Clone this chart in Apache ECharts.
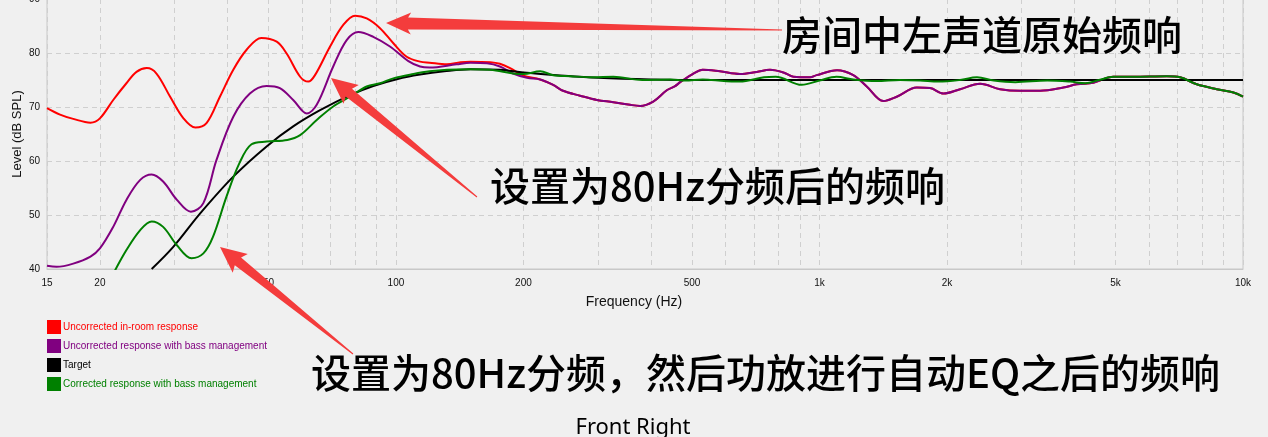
<!DOCTYPE html>
<html>
<head>
<meta charset="utf-8">
<script src="https://cdn.jsdelivr.net/npm/echarts@6/dist/echarts.min.js"></script>
<style>
html,body{margin:0;padding:0;background:#f0f0f0;}
#c{width:1268px;height:437px;}
</style>
</head>
<body>
<div id="c"></div>
<script>
// ---- data ----
const seriesNames = [
  'Uncorrected in-room response',
  'Uncorrected response with bass management',
  'Target',
  'Corrected response with bass management'
];
const xTickLabels = [15, 20, 50, 100, 200, 500, 1000, 2000, 5000, 10000];
const xGridValues = [15, 20, 30, 40, 50, 60, 70, 80, 90, 100, 200, 300, 400, 500, 600, 700, 800, 900,
  1000, 2000, 3000, 4000, 5000, 6000, 7000, 8000, 9000, 10000];

const redFreq = [15, 16.1, 17.3, 19, 20, 21.5, 23.1, 24.4, 25.8, 27.2, 29.3, 31.5, 33.6, 35.7, 38.4, 41.3, 44.4, 48.1,
  52.3, 55.2, 59.4, 62.1, 64.4, 69.9, 75.1, 80.1, 85.3, 91.7, 98.6, 106, 114, 120, 132, 142, 150, 167, 176, 186, 200,
  219, 235, 248, 272, 298, 326, 357, 377, 405, 436, 455, 469, 504, 530, 582, 649, 711, 764, 822, 868, 950, 985, 1100,
  1202, 1293, 1415, 1522, 1697, 1824, 1962, 2148, 2395, 2670, 2976, 3318, 3766, 4052, 4433, 4943, 5510, 6607, 7103,
  7776, 8671, 9494, 10000];
const redDb = [69.8, 68.6, 67.8, 67.1, 67.9, 71.3, 74.4, 76.5, 77.2, 76.2, 71.9, 67.9, 66.2, 67.0, 71.9, 76.9, 80.6, 82.8,
  82.1, 79.9, 75.6, 74.7, 75.9, 81.2, 85.2, 86.9, 86.4, 84.6, 81.8, 79.3, 78.4, 78.2, 77.9, 78.3, 78.4, 78.3, 78.0, 77.2, 75.8,
  75.1, 74.1, 73.0, 72.1, 71.3, 70.9, 70.4, 70.2, 71.0, 73.1, 73.8, 74.6, 76.2, 76.9, 76.6, 76.1, 76.5, 76.9, 76.4, 75.6, 75.5, 75.9, 76.8,
  75.9, 73.8, 71.1, 71.9, 73.6, 73.5, 72.5, 73.3, 74.3, 73.3, 73.0, 73.0, 73.6, 74.2, 74.5, 75.6, 75.6, 75.7, 75.5,
  74.2, 73.3, 72.7, 71.9];

const purpleFreq = [15, 15.8, 17.3, 19, 20, 21.5, 23.1, 24.9, 26.5, 28.2, 30.4, 32.8, 35.1, 37.7, 41.3, 45.2, 49.5, 53.2,
  57.2, 61.6, 65.0, 71.1, 76.5, 81.5, 88.4, 96.8, 107, 114, 120, 139, 150, 164, 176, 189, 204,
  219, 235, 248, 272, 298, 326, 357, 377, 405, 436, 455, 469, 504, 530, 582, 649, 711, 764, 822, 868, 950, 985, 1100,
  1202, 1293, 1415, 1522, 1697, 1824, 1962, 2148, 2395, 2670, 2976, 3318, 3766, 4052, 4433, 4943, 5510, 6607, 7103,
  7776, 8671, 9494, 10000];
const purpleDb = [40.6, 40.4, 41.0, 42.3, 43.8, 47.8, 52.8, 56.5, 57.5, 56.2, 52.8, 50.6, 52.2, 60.2, 68.2, 72.5, 73.9, 73.5,
  71.3, 68.8, 70.4, 77.5, 82.4, 83.9, 83.0, 81.2, 78.5, 77.5, 77.3, 77.9, 78.2, 78.1, 77.5, 76.2, 75.4,
  75.1, 74.1, 73.0, 72.1, 71.3, 70.9, 70.4, 70.2, 71.0, 73.1, 73.8, 74.6, 76.2, 76.9, 76.6, 76.1, 76.5, 76.9, 76.4, 75.6, 75.5, 75.9, 76.8,
  75.9, 73.8, 71.1, 71.9, 73.6, 73.5, 72.5, 73.3, 74.3, 73.3, 73.0, 73.0, 73.6, 74.2, 74.5, 75.6, 75.6, 75.7, 75.5,
  74.2, 73.3, 72.7, 71.9];

const targetFreq = [26.5, 29.8, 34.5, 41.3, 49.5, 57.2, 66.2, 77.9, 88.4, 101, 114, 130, 150, 176, 200, 240, 300, 400, 550, 10000];
const targetDb = [40, 44.1, 50.3, 57.1, 62.7, 66.4, 69.4, 72.2, 73.9, 75.2, 76.0, 76.6, 77.0, 76.9, 76.4, 75.9, 75.4, 75.1, 75.0, 75.0];

const greenFreq = [21.3, 23.1, 24.9, 26.5, 28.2, 30.4, 32.9, 35.1, 37.0, 39.8, 42.7, 45.6, 49.5, 55.4, 59.4, 65.0, 71.1,
  77.9, 85.3, 91.7, 98.6, 110, 120, 132, 150, 167, 189, 200, 219, 235, 258, 292, 326, 382, 444, 482, 530, 556, 648,
  740, 788, 908, 1000, 1097, 1202, 1364, 1550, 1728, 1910, 2148, 2355, 2580, 2900, 3450, 3906, 4250, 4570, 4943,
  5510, 6607, 7103, 7776, 8671, 9494, 10000];
const greenDb = [38.5, 43.5, 47.2, 48.8, 47.8, 44.4, 42.0, 42.9, 46.0, 53.4, 59.6, 63.1, 63.6, 63.9, 64.8, 67.6, 70.1,
  71.9, 73.8, 74.4, 75.3, 76.1, 76.6, 76.9, 77.0, 76.9, 76.2, 76.1, 76.6, 75.9, 75.7, 75.5, 75.6, 75.0, 75.1, 74.9, 75.1, 75.0, 74.7,
  75.5, 75.6, 74.1, 74.9, 75.6, 75.1, 74.8, 75.0, 74.9, 74.7, 75.0, 75.5, 74.9, 74.6, 74.9, 74.7, 74.4, 75.0, 75.6,
  75.6, 75.7, 75.5, 74.2, 73.3, 72.7, 71.9];

const seriesColors = ['#ff0000', '#800080', '#000000', '#008000'];

// ---- chart ----
function pairs(f, d) { return f.map((v, i) => [v, d[i]]); }
const seriesData = [pairs(redFreq, redDb), pairs(purpleFreq, purpleDb), pairs(targetFreq, targetDb), pairs(greenFreq, greenDb)];

function arrow(tail, tip, headLen, headHalf, bodyHalf, tailHalf) {
  const dx = tip[0] - tail[0], dy = tip[1] - tail[1];
  const L = Math.hypot(dx, dy);
  const ux = dx / L, uy = dy / L, px = -uy, py = ux;
  const bx = tip[0] - ux * headLen, by = tip[1] - uy * headLen;
  const pts = [
    [tail[0] + px * tailHalf, tail[1] + py * tailHalf],
    [bx + px * bodyHalf, by + py * bodyHalf],
    [bx + px * headHalf - ux * 3, by + py * headHalf - uy * 3],
    [tip[0], tip[1]],
    [bx - px * headHalf - ux * 3, by - py * headHalf - uy * 3],
    [bx - px * bodyHalf, by - py * bodyHalf],
    [tail[0] - px * tailHalf, tail[1] - py * tailHalf]
  ];
  return { type: 'polygon', z: 100, shape: { points: pts }, style: { fill: '#f43c3c' } };
}

const chart = echarts.init(document.getElementById('c'), null, { renderer: 'canvas' });
const cjk = '"Noto Sans CJK SC", sans-serif';
chart.setOption({
  backgroundColor: '#f0f0f0',
  animation: false,
  grid: { left: 47, right: 25, top: -1, bottom: 168, outerBoundsMode: 'none', containLabel: false,
    show: true, borderColor: '#c8c8c8', borderWidth: 1, backgroundColor: 'transparent' },
  xAxis: {
    type: 'log', logBase: 10, min: 15, max: 10000,
    name: 'Frequency (Hz)', nameLocation: 'middle', nameGap: 26, nameMoveOverlap: false,
    nameTextStyle: { fontSize: 14, color: '#111', fontFamily: 'Liberation Sans', padding: [0, 22, 0, 0] },
    axisLine: { show: true, lineStyle: { color: '#c8c8c8' } },
    axisTick: { show: false, customValues: xGridValues },
    axisLabel: {
      customValues: xTickLabels, fontSize: 10, color: '#111', margin: 9, fontFamily: 'Liberation Sans',
      formatter: v => (v >= 1000 ? (v / 1000) + 'k' : String(v))
    },
    splitLine: { show: true, lineStyle: { color: '#cfcfcf', type: [5, 4], width: 1 } }
  },
  yAxis: {
    type: 'value', min: 40, max: 90, interval: 10,
    name: 'Level (dB SPL)', nameLocation: 'middle', nameGap: 23, nameRotate: 90, nameMoveOverlap: false,
    nameTextStyle: { fontSize: 13, color: '#111', fontFamily: 'Liberation Sans' },
    axisLine: { show: false },
    axisTick: { show: false },
    axisLabel: { fontSize: 10, color: '#111', margin: 7, fontFamily: 'Liberation Sans' },
    splitLine: { show: true, lineStyle: { color: '#cfcfcf', type: [5, 4], width: 1 } }
  },
  legend: {
    orient: 'vertical', left: 47, top: 320, padding: 0, itemWidth: 14, itemHeight: 14, itemGap: 5, icon: 'rect',
    selectedMode: false,
    textStyle: { fontSize: 10, fontFamily: 'Liberation Sans', padding: [0, 0, 0, -3] },
    data: seriesNames.map((n, i) => ({ name: n, textStyle: { color: seriesColors[i] } }))
  },
  series: seriesNames.map((n, i) => ({
    name: n, type: 'line', data: seriesData[i], showSymbol: false, smooth: 0.35,
    color: seriesColors[i], lineStyle: { width: 2, color: seriesColors[i] }, z: 2 + i, clip: true
  })),
  graphic: [
    { type: 'text', z: 100, style: { text: '房间中左声道原始频响', x: 782, y: 35, font: '500 40px ' + cjk, fill: '#000', verticalAlign: 'middle' } },
    { type: 'text', z: 100, style: { text: '设置为80Hz分频后的频响', x: 490, y: 186, font: '500 40px ' + cjk, fill: '#000', verticalAlign: 'middle' } },
    { type: 'text', z: 100, style: { text: '设置为80Hz分频，然后功放进行自动EQ之后的频响', x: 311, y: 373, font: '500 40px ' + cjk, fill: '#000', verticalAlign: 'middle' } },
    { type: 'text', z: 100, style: { text: 'Front Right', x: 633, y: 428, font: '22px "Noto Sans", sans-serif', fill: '#000', align: 'center', verticalAlign: 'middle' } },
    arrow([782, 30], [386, 23], 22, 11, 6, 0.5),
    arrow([477, 197], [331, 78], 23, 12, 5, 0.5),
    arrow([353, 354], [220, 247], 23, 12, 5, 0.5)
  ]
});
</script>
</body>
</html>
